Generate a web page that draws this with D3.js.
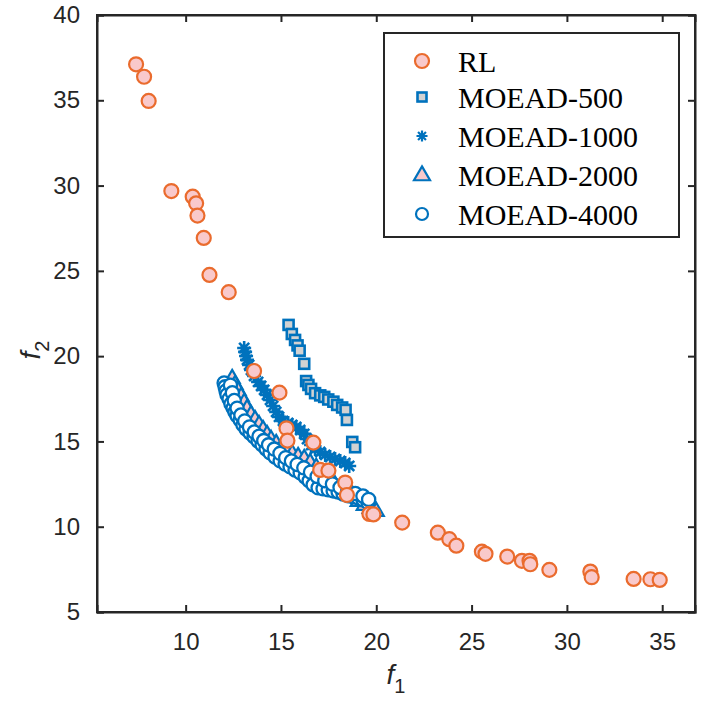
<!DOCTYPE html>
<html>
<head>
<meta charset="utf-8">
<script src="https://cdn.jsdelivr.net/npm/d3@7"></script>
<style>
html,body{margin:0;padding:0;background:#fff;}
</style>
</head>
<body>
<svg id="chart" width="705" height="705"></svg>
<script>
// ---- data ----
const rlF1 = [7.40,7.82,8.06,9.25,10.37,10.55,10.62,10.95,11.25,12.26,13.59,14.92,15.29,15.34,16.70,17.06,17.49,18.37,18.46,19.64,19.85,21.36,23.23,23.83,24.20,25.54,25.73,26.87,27.64,28.04,28.08,29.08,31.23,31.30,33.50,34.38,34.87];
const rlF2 = [37.11,36.38,34.96,29.68,29.35,28.96,28.24,26.93,24.76,23.75,19.13,17.86,15.77,15.05,14.93,13.33,13.29,12.59,11.86,10.75,10.72,10.24,9.65,9.27,8.89,8.54,8.41,8.25,8.00,8.00,7.80,7.47,7.37,7.04,6.94,6.92,6.88];

const m500F1 = [15.40,15.57,15.74,15.87,15.98,16.22,16.32,16.44,16.58,16.79,17.06,17.27,17.48,17.75,17.95,18.21,18.39,18.46,18.74,18.89];
const m500F2 = [21.83,21.30,20.95,20.63,20.32,19.55,18.54,18.31,18.08,17.83,17.70,17.61,17.46,17.33,17.14,16.99,16.85,16.26,14.97,14.66];

const m1000F1 = [13.07,13.12,13.17,13.22,13.33,13.43,13.59,13.80,13.96,14.12,14.27,14.43,14.59,14.75,14.90,15.11,15.38,15.59,15.80,16.01,16.22,16.37,16.58,16.79,17.06,17.32,17.58,17.84,18.11,18.37,18.58];
const m1000F2 = [20.48,20.25,20.01,19.78,19.49,19.19,18.84,18.49,18.25,18.02,17.73,17.43,17.08,16.73,16.44,16.20,16.08,15.97,15.85,15.67,15.44,15.14,14.79,14.56,14.38,14.21,14.09,13.97,13.85,13.74,13.56];

const m2000F1 = [12.44,12.59,12.75,12.91,13.07,13.22,13.43,13.64,13.85,14.06,14.27,14.48,14.75,15.01,15.27,15.59,15.90,16.22,16.53,16.85,17.16,17.48,17.79,18.11,18.42,18.74,19.05,19.37,19.68,20.00];
const m2000F2 = [18.72,18.37,18.02,17.67,17.32,16.96,16.61,16.32,16.02,15.73,15.44,15.15,14.91,14.68,14.50,14.32,14.15,14.03,13.80,13.51,13.10,12.80,12.57,12.33,12.10,11.81,11.51,11.28,11.10,10.93];

const m4000F1 = [12.02,12.07,12.12,12.17,12.28,12.38,12.49,12.59,12.70,12.86,13.01,13.17,13.38,13.59,13.80,14.01,14.22,14.43,14.69,14.96,15.22,15.48,15.74,16.01,16.27,16.48,16.69,16.95,17.21,17.48,17.74,18.00,18.26,18.53,18.79,19.05,19.31,19.57,
  12.35,12.45,12.55,12.70,12.90,13.10,13.35,13.60,13.85,14.10,14.35,14.65,14.95,15.25,15.55,15.85,16.20,16.55,16.90,17.30,17.70,18.10,18.50,18.90,19.30,19.60];
const m4000F2 = [18.43,18.20,17.96,17.73,17.49,17.20,16.96,16.73,16.50,16.26,15.97,15.73,15.50,15.27,15.03,14.80,14.56,14.33,14.09,13.86,13.68,13.51,13.33,13.16,12.92,12.69,12.46,12.28,12.22,12.16,12.10,12.04,11.92,11.81,11.75,11.69,11.57,11.40,
  18.30,17.85,17.40,16.95,16.55,16.20,15.85,15.55,15.30,15.05,14.80,14.55,14.30,14.05,13.85,13.65,13.45,13.20,12.95,12.70,12.50,12.30,12.10,11.95,11.80,11.60];

const seriesNames = ["RL","MOEAD-500","MOEAD-1000","MOEAD-2000","MOEAD-4000"];
const xTicks = [10,15,20,25,30,35];
const yTicks = [5,10,15,20,25,30,35,40];
const xDomain = [5.35, 36.72];
const yDomain = [5, 40];

// ---- layout ----
const svg = d3.select("#chart");
const L = 97, R = 695, T = 15, B = 612;
const x = d3.scaleLinear().domain(xDomain).range([L, R]);
const y = d3.scaleLinear().domain(yDomain).range([B, T]);

const orange = "#EA6B2D", pink = "#F9C9CB", blue = "#0072BD", gray = "#D2D2D2", axisCol = "#262626";

function drawCircle(g, cx, cy, r, fill, stroke, sw) {
  g.append("circle").attr("cx", cx).attr("cy", cy).attr("r", r)
    .attr("fill", fill).attr("stroke", stroke).attr("stroke-width", sw);
}
function drawSquare(g, cx, cy, s) {
  g.append("rect").attr("x", cx - s/2).attr("y", cy - s/2).attr("width", s).attr("height", s)
    .attr("fill", gray).attr("stroke", blue).attr("stroke-width", 2.6);
}
function drawStar(g, cx, cy, s, sw) {
  const h = s/2, d = h*0.72;
  const p = `M${cx-h},${cy}L${cx+h},${cy}M${cx},${cy-h}L${cx},${cy+h}M${cx-d},${cy-d}L${cx+d},${cy+d}M${cx-d},${cy+d}L${cx+d},${cy-d}`;
  g.append("path").attr("d", p).attr("fill", "none").attr("stroke", blue).attr("stroke-width", sw);
}
function drawTri(g, cx, cy, s) {
  const h = s*0.866;
  const p = `M${cx},${cy - h*0.62}L${cx + s/2},${cy + h*0.38}L${cx - s/2},${cy + h*0.38}Z`;
  g.append("path").attr("d", p).attr("fill", pink).attr("stroke", blue).attr("stroke-width", 2.2).attr("stroke-linejoin","miter");
}

const plot = svg.append("g");
const g500 = plot.append("g");
m500F1.forEach((v, i) => drawSquare(g500, x(v), y(m500F2[i]), 10));
const g1000 = plot.append("g");
m1000F1.forEach((v, i) => drawStar(g1000, x(v), y(m1000F2[i]), 14, 2.6));
const g2000 = plot.append("g");
m2000F1.forEach((v, i) => drawTri(g2000, x(v), y(m2000F2[i]), 15));
const g4000 = plot.append("g");
m4000F1.forEach((v, i) => drawCircle(g4000, x(v), y(m4000F2[i]), 6.6, "#fff", blue, 2.3));
const gRL = plot.append("g");
rlF1.forEach((v, i) => drawCircle(gRL, x(v), y(rlF2[i]), 7, pink, orange, 2.2));

// axes
const tickLen = 7;
const axG = svg.append("g");
const fmt = d3.format("d");
axG.append("g").attr("transform", `translate(0,${B})`)
  .call(d3.axisBottom(x).tickValues(xTicks).tickSize(-tickLen).tickPadding(tickLen + 14).tickFormat(fmt));
axG.append("g").attr("transform", `translate(0,${T})`)
  .call(d3.axisTop(x).tickValues(xTicks).tickSize(-tickLen).tickFormat(""));
axG.append("g").attr("transform", `translate(${L},0)`)
  .call(d3.axisLeft(y).tickValues(yTicks).tickSize(-tickLen).tickPadding(tickLen + 10).tickFormat(fmt));
axG.append("g").attr("transform", `translate(${R},0)`)
  .call(d3.axisRight(y).tickValues(yTicks).tickSize(-tickLen).tickFormat(""));
axG.selectAll(".domain").attr("stroke", axisCol).attr("stroke-width", 2);
axG.selectAll(".tick line").attr("stroke", axisCol).attr("stroke-width", 2);
axG.selectAll(".tick text").attr("fill", "#262626")
  .style("font-family", "'Liberation Sans', Arial, sans-serif").style("font-size", "24px");
svg.append("rect").attr("x", L).attr("y", T).attr("width", R - L).attr("height", B - T)
  .attr("fill", "none").attr("stroke", axisCol).attr("stroke-width", 2);

// axis labels
const lblFont = "'Liberation Sans', Arial, sans-serif";
const xl = svg.append("text").attr("x", 396).attr("y", 684).attr("text-anchor", "middle")
  .style("font-family", lblFont).style("font-size", "28px").attr("fill", "#262626");
xl.append("tspan").text("f").style("font-style", "italic");
xl.append("tspan").text("1").attr("dy", 9).style("font-size", "20px");

const yl = svg.append("text").attr("transform", "translate(40,350) rotate(-90)").attr("text-anchor", "middle")
  .style("font-family", lblFont).style("font-size", "28px").attr("fill", "#262626");
yl.append("tspan").text("f").style("font-style", "italic");
yl.append("tspan").text("2").attr("dy", 9).style("font-size", "20px");

// legend
const leg = svg.append("g");
leg.append("rect").attr("x", 384).attr("y", 33).attr("width", 295).attr("height", 204)
  .attr("fill", "#fff").attr("stroke", axisCol).attr("stroke-width", 2);
const rowY = [61, 97, 136, 175, 214];
const mx = 422;
drawCircle(leg, mx, rowY[0], 7, pink, orange, 2.2);
drawSquare(leg, mx, rowY[1], 9);
drawStar(leg, mx, rowY[2], 11, 2.2);
drawTri(leg, mx, rowY[3], 16);
drawCircle(leg, mx, rowY[4], 6, "#fff", blue, 2.2);
seriesNames.forEach((n, i) => {
  leg.append("text").attr("x", 458).attr("y", rowY[i]).attr("dy", "0.35em").text(n)
    .style("font-family", "'Liberation Serif', 'Times New Roman', serif").style("font-size", "30px").attr("fill", "#000");
});
</script>
</body>
</html>
